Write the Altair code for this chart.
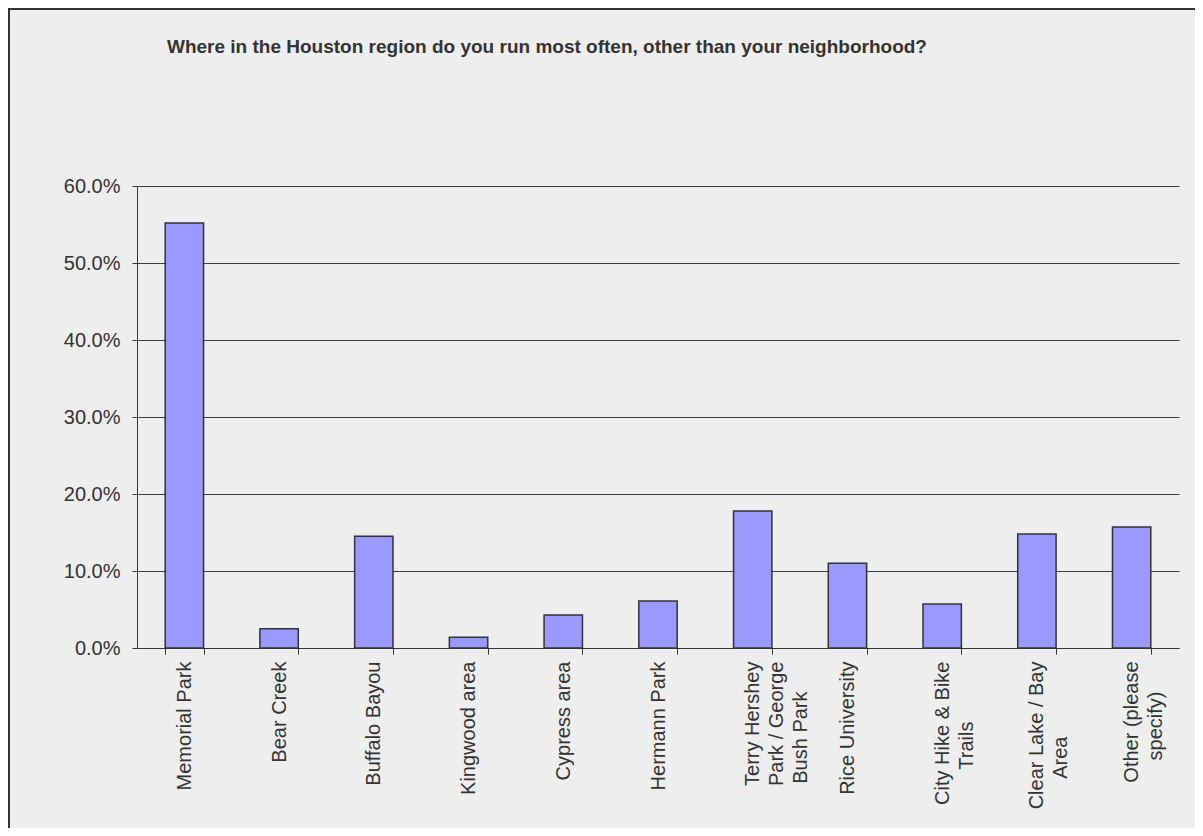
import json
import altair as alt
import pandas as pd

categories = [
    "Memorial Park",
    "Bear Creek",
    "Buffalo Bayou",
    "Kingwood area",
    "Cypress area",
    "Hermann Park",
    "Terry Hershey\nPark / George\nBush Park",
    "Rice University",
    "City Hike & Bike\nTrails",
    "Clear Lake / Bay\nArea",
    "Other (please\nspecify)",
]
percent = [55.2, 2.5, 14.5, 1.4, 4.3, 6.1, 17.8, 11.0, 5.7, 14.8, 15.7]
y_ticks = [0, 10, 20, 30, 40, 50, 60]
title_text = "Where in the Houston region do you run most often, other than your neighborhood?"

df = pd.DataFrame({"cat": categories, "pct": percent})

FONT = "Liberation Sans"
DARK = "#333333"

# Approximate Arial/Liberation Sans advance widths (per 1000 em) used to
# centre the shorter lines of the wrapped tick labels, as in the original.
_W = {" ": 278, "/": 278, "&": 667, "(": 333, ")": 333}
for ch in "abdeghnopqu":
    _W[ch] = 556
for ch in "cksvxyz":
    _W[ch] = 500
for ch in "ijl":
    _W[ch] = 222
_W.update({"f": 278, "t": 278, "r": 333, "m": 833, "w": 722,
           "A": 667, "B": 667, "C": 722, "G": 778, "H": 722, "L": 556,
           "O": 778, "P": 667, "R": 722, "T": 611})
PAD_CH, PAD_W = "\u2800", 556  # blank braille cell (invisible glyph)


def _width(s):
    return sum(_W.get(c, 556) for c in s)


label_lines = {}
for c in categories:
    lines = c.split("\n")
    wmax = max(_width(l) for l in lines)
    out = []
    for l in lines:
        n = int(round((wmax - _width(l)) / 2 / PAD_W))
        out.append(l + PAD_CH * n)
    label_lines[c] = out

label_expr = json.dumps(label_lines, ensure_ascii=False) + "[datum.label]"

bars = alt.Chart(df).mark_bar(
    fill="#9999ff", stroke=DARK, strokeWidth=1.5
).encode(
    x=alt.X(
        "cat:N",
        sort=categories,
        title=None,
        scale=alt.Scale(paddingInner=0.595, paddingOuter=0.2975),
        axis=alt.Axis(
            labelAngle=270,
            labelAlign="right",
            labelBaseline="middle",
            labelExpr=label_expr,
            labelFont=FONT,
            labelFontSize=20,
            labelLineHeight=24,
            labelColor=DARK,
            labelPadding=7,
            labelLimit=400,
            tickBand="extent",
            tickSize=6,
            tickColor=DARK,
            domainColor=DARK,
            grid=False,
        ),
    ),
    y=alt.Y(
        "pct:Q",
        title=None,
        scale=alt.Scale(domain=[0, 60], nice=False),
        axis=alt.Axis(
            values=y_ticks,
            labelExpr="format(datum.value, '.1f') + '%'",
            labelFont=FONT,
            labelFontSize=20,
            labelColor=DARK,
            labelPadding=12,
            tickSize=5,
            tickColor=DARK,
            domainColor=DARK,
            grid=True,
            gridColor="#3a3a3a",
            gridWidth=1,
        ),
    ),
)

frame = alt.Chart(pd.DataFrame({"a": [0]})).mark_rect(
    filled=False, stroke=DARK, strokeWidth=2, clip=False
).encode(
    x=alt.value(-128),
    y=alt.value(-177),
    x2=alt.value(1300),
    y2=alt.value(900),
)

chart = alt.layer(bars, frame).properties(
    width=1042,
    height=462,
    autosize=alt.AutoSizeParams(type="none"),
    padding={"left": 129, "top": 178, "right": 16, "bottom": 180},
    background="#eeeeee",
    title=alt.TitleParams(
        title_text,
        anchor="start",
        frame="group",
        dx=30,
        offset=-64,
        baseline="alphabetic",
        font=FONT,
        fontSize=19,
        fontWeight="bold",
        color=DARK,
    ),
).configure_view(stroke=None)

chart.save("out.html", embed_options={"renderer": "svg", "actions": False})
